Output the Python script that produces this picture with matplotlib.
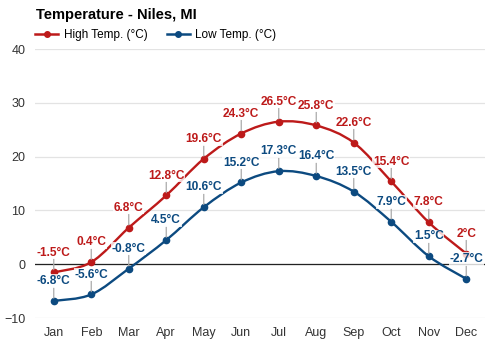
import matplotlib
matplotlib.use("Agg")
import matplotlib.pyplot as plt
from matplotlib.path import Path
from matplotlib.patches import PathPatch
from matplotlib.lines import Line2D

plt.rcParams["font.family"] = ["Liberation Sans", "DejaVu Sans"]

months = ["Jan", "Feb", "Mar", "Apr", "May", "Jun", "Jul", "Aug", "Sep", "Oct", "Nov", "Dec"]
high = [-1.5, 0.4, 6.8, 12.8, 19.6, 24.3, 26.5, 25.8, 22.6, 15.4, 7.8, 2]
low = [-6.8, -5.6, -0.8, 4.5, 10.6, 15.2, 17.3, 16.4, 13.5, 7.9, 1.5, -2.7]
high_labels = ["-1.5°C", "0.4°C", "6.8°C", "12.8°C", "19.6°C", "24.3°C",
               "26.5°C", "25.8°C", "22.6°C", "15.4°C", "7.8°C", "2°C"]
low_labels = ["-6.8°C", "-5.6°C", "-0.8°C", "4.5°C", "10.6°C", "15.2°C",
              "17.3°C", "16.4°C", "13.5°C", "7.9°C", "1.5°C", "-2.7°C"]

red, blue = "#bd1a1a", "#0c4a80"

fig = plt.figure(figsize=(5, 3.5), dpi=100)
ax = fig.add_axes([0.07, 0.091, 0.90, 0.769])


def smooth_path(xs, ys):
    # Catmull-Rom style bezier through the points
    verts = [(xs[0], ys[0])]
    codes = [Path.MOVETO]
    n = len(xs)
    for i in range(n - 1):
        x0, y0 = xs[max(i - 1, 0)], ys[max(i - 1, 0)]
        x1, y1 = xs[i], ys[i]
        x2, y2 = xs[i + 1], ys[i + 1]
        x3, y3 = xs[min(i + 2, n - 1)], ys[min(i + 2, n - 1)]
        c1 = (x1 + (x2 - x0) / 6, y1 + (y2 - y0) / 6)
        c2 = (x2 - (x3 - x1) / 6, y2 - (y3 - y1) / 6)
        verts += [c1, c2, (x2, y2)]
        codes += [Path.CURVE4] * 3
    return Path(verts, codes)


x = list(range(len(months)))
for ys, col, labs in [(high, red, high_labels), (low, blue, low_labels)]:
    ax.add_patch(PathPatch(smooth_path(x, ys), fill=False, edgecolor=col, lw=1.7, zorder=3))
    ax.plot(x, ys, "o", color=col, ms=4.5, zorder=4)
    for xi, yi, lab in zip(x, ys, labs):
        ax.annotate(lab, (xi, yi), xytext=(0, 10), textcoords="offset points",
                    ha="center", va="bottom", color=col, fontsize=8.6,
                    fontweight="bold", zorder=5,
                    bbox=dict(boxstyle="square,pad=0.05", fc="white", ec="none", alpha=0.8),
                    arrowprops=dict(arrowstyle="-", color="#aaaaaa", lw=0.9,
                                    shrinkA=0, shrinkB=2))

ax.set_xlim(-0.5, 11.5)
ax.set_ylim(-10, 40)
ax.set_yticks([-10, 0, 10, 20, 30, 40])
ax.set_xticks(x)
ax.set_xticklabels(months)
ax.grid(axis="y", color="#e3e3e3", lw=0.9, zorder=0)
ax.axhline(0, color="#222222", lw=0.9, zorder=2)
for s in ax.spines.values():
    s.set_visible(False)
ax.tick_params(length=0, labelsize=9, labelcolor="#333333")
ax.tick_params(axis="x", pad=6.5)
ax.tick_params(axis="y", pad=7)

fig.text(0.072, 0.957, "Temperature - Niles, MI", fontsize=10.5, fontweight="bold",
         ha="left", va="center")
handles = [Line2D([], [], color=red, marker="o", ms=4, lw=1.8),
           Line2D([], [], color=blue, marker="o", ms=4, lw=1.8)]
fig.legend(handles, ["High Temp. (°C)", "Low Temp. (°C)"], loc="center left",
           bbox_to_anchor=(0.07, 0.9), ncol=2, frameon=False, fontsize=8.5,
           borderaxespad=0, borderpad=0,
           handlelength=1.95, handletextpad=0.5, columnspacing=1.6)

fig.savefig("out.png", dpi=100)
